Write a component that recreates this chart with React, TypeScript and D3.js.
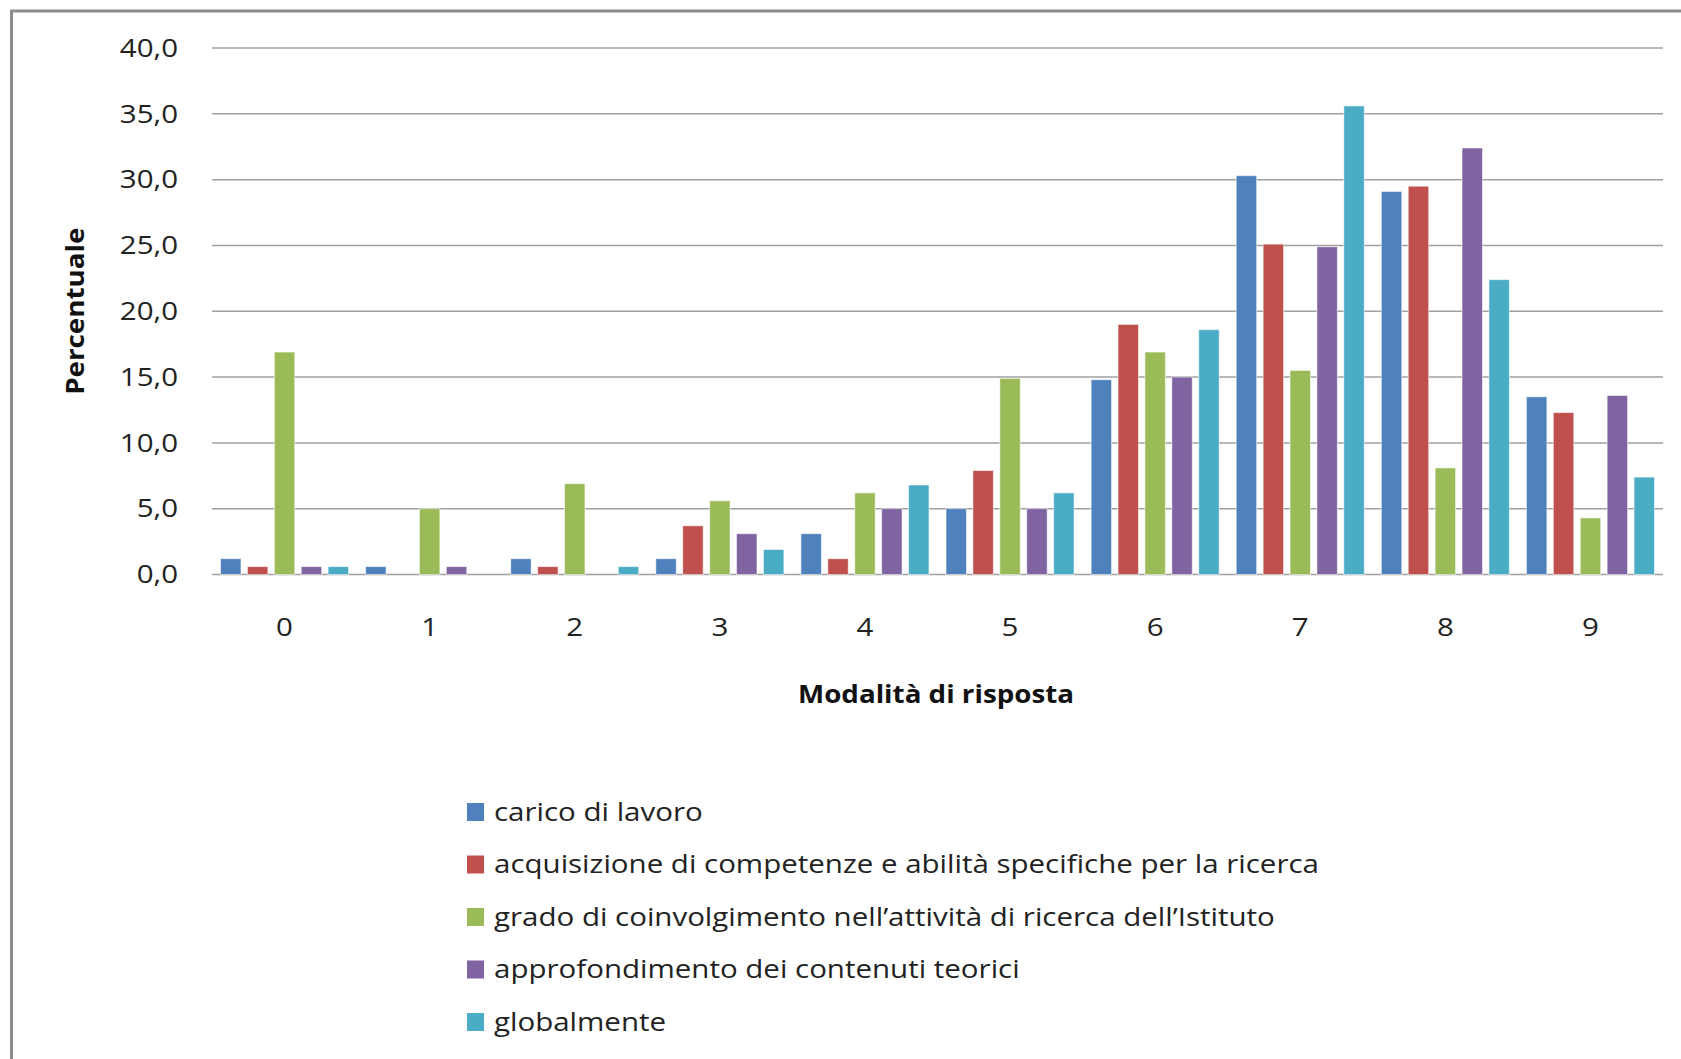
import { useEffect, useRef } from 'react';
import * as d3 from 'd3';

const categories = ['0', '1', '2', '3', '4', '5', '6', '7', '8', '9'];

const seriesNames = [
  'carico di lavoro',
  'acquisizione di competenze e abilità specifiche per la ricerca',
  'grado di coinvolgimento nell’attività di ricerca dell’Istituto',
  'approfondimento dei contenuti teorici',
  'globalmente',
];

const caricoDiLavoro = [1.2, 0.6, 1.2, 1.2, 3.1, 5.0, 14.8, 30.3, 29.1, 13.5];
const acquisizione = [0.6, 0, 0.6, 3.7, 1.2, 7.9, 19.0, 25.1, 29.5, 12.3];
const gradoCoinvolgimento = [16.9, 5.0, 6.9, 5.6, 6.2, 14.9, 16.9, 15.5, 8.1, 4.3];
const approfondimento = [0.6, 0.6, 0, 3.1, 5.0, 5.0, 15.0, 24.9, 32.4, 13.6];
const globalmente = [0.6, 0, 0.6, 1.9, 6.8, 6.2, 18.6, 35.6, 22.4, 7.4];

const yTicks = [0, 5, 10, 15, 20, 25, 30, 35, 40];

const colors = ['#4F81BD', '#C0504D', '#9BBB59', '#8064A2', '#4BACC6'];

const FONT = '"Open Sans", "Liberation Sans", sans-serif';
// il testo originale è più largo: allargo in orizzontale
const SX = 1.18;
const SX_BOLD = 1.11;

export default function App() {
  const svgRef = useRef<SVGSVGElement>(null);

  useEffect(() => {
    if (!svgRef.current) return;
    const svg = d3.select(svgRef.current);
    svg.selectAll('*').remove();

    const values = [caricoDiLavoro, acquisizione, gradoCoinvolgimento, approfondimento, globalmente];

    // area del grafico
    const left = 212;
    const right = 1663;
    const top = 48;
    const bottom = 574.5;

    // cornice
    svg
      .append('rect')
      .attr('x', 11.5)
      .attr('y', 11)
      .attr('width', 1800)
      .attr('height', 1200)
      .attr('fill', 'white')
      .attr('stroke', '#8c8c8c')
      .attr('stroke-width', 3);

    const x0 = d3.scaleBand().domain(categories).range([left, right]).paddingInner(0.073).paddingOuter(0.0365);
    const x1 = d3
      .scaleBand()
      .domain(seriesNames)
      .range([0, x0.bandwidth()])
      .paddingInner(0.24)
      .paddingOuter(0.12);
    const y = d3.scaleLinear().domain([0, 40]).range([bottom, top]);

    // griglia
    svg
      .append('g')
      .selectAll('line')
      .data(yTicks)
      .join('line')
      .attr('x1', left)
      .attr('x2', right)
      .attr('y1', (d) => y(d))
      .attr('y2', (d) => y(d))
      .attr('stroke', '#a0a0a0')
      .attr('stroke-width', 1.5);

    // etichette asse y
    svg
      .append('g')
      .selectAll('text')
      .data(yTicks)
      .join('text')
      .attr('transform', (d) => `translate(178,${y(d)}) scale(${SX},1)`)
      .attr('dy', '0.35em')
      .attr('text-anchor', 'end')
      .style('font-family', FONT)
      .style('font-size', '25px')
      .attr('fill', '#222')
      .text((d) => d.toFixed(1).replace('.', ','));

    // barre
    const groups = svg
      .append('g')
      .selectAll('g')
      .data(categories)
      .join('g')
      .attr('transform', (c) => `translate(${x0(c)},0)`);

    groups
      .selectAll('rect')
      .data((c) => seriesNames.map((s, k) => ({ s, k, v: values[k][categories.indexOf(c)] })))
      .join('rect')
      .filter((d) => d.v > 0)
      .attr('x', (d) => x1(d.s)!)
      .attr('y', (d) => y(d.v))
      .attr('width', x1.bandwidth())
      .attr('height', (d) => y(0) - y(d.v))
      .attr('fill', (d) => colors[d.k])
      .attr('stroke', 'rgba(255,255,255,0.55)')
      .attr('stroke-width', 1);

    // etichette asse x
    svg
      .append('g')
      .selectAll('text')
      .data(categories)
      .join('text')
      .attr('transform', (c) => `translate(${x0(c)! + x0.bandwidth() / 2},636) scale(${SX},1)`)
      .attr('text-anchor', 'middle')
      .style('font-family', FONT)
      .style('font-size', '25px')
      .attr('fill', '#222')
      .text((c) => c);

    // titoli assi
    svg
      .append('text')
      .attr('transform', `translate(936,703) scale(${SX_BOLD},1)`)
      .attr('text-anchor', 'middle')
      .style('font-family', FONT)
      .style('font-size', '25px')
      .style('font-weight', 'bold')
      .attr('fill', '#111')
      .text('Modalità di risposta');

    svg
      .append('text')
      .attr('transform', `translate(84,${(top + bottom) / 2}) rotate(-90) scale(${SX_BOLD},1)`)
      .attr('text-anchor', 'middle')
      .style('font-family', FONT)
      .style('font-size', '25px')
      .style('font-weight', 'bold')
      .attr('fill', '#111')
      .text('Percentuale');

    // legenda
    const legend = svg.append('g').attr('transform', 'translate(467, 812)');
    seriesNames.forEach((name, i) => {
      const row = legend.append('g').attr('transform', `translate(0, ${i * 52.5})`);
      row
        .append('rect')
        .attr('x', 0)
        .attr('y', -9)
        .attr('width', 17)
        .attr('height', 18)
        .attr('fill', colors[i]);
      row
        .append('text')
        .attr('transform', `translate(27,0) scale(${SX},1)`)
        .attr('dy', '0.35em')
        .style('font-family', FONT)
        .style('font-size', '25px')
        .attr('fill', '#222')
        .text(name);
    });
  }, []);

  return (
    <svg
      ref={svgRef}
      width={1681}
      height={1059}
      style={{ position: 'absolute', left: 0, top: 0, background: 'white' }}
    />
  );
}
